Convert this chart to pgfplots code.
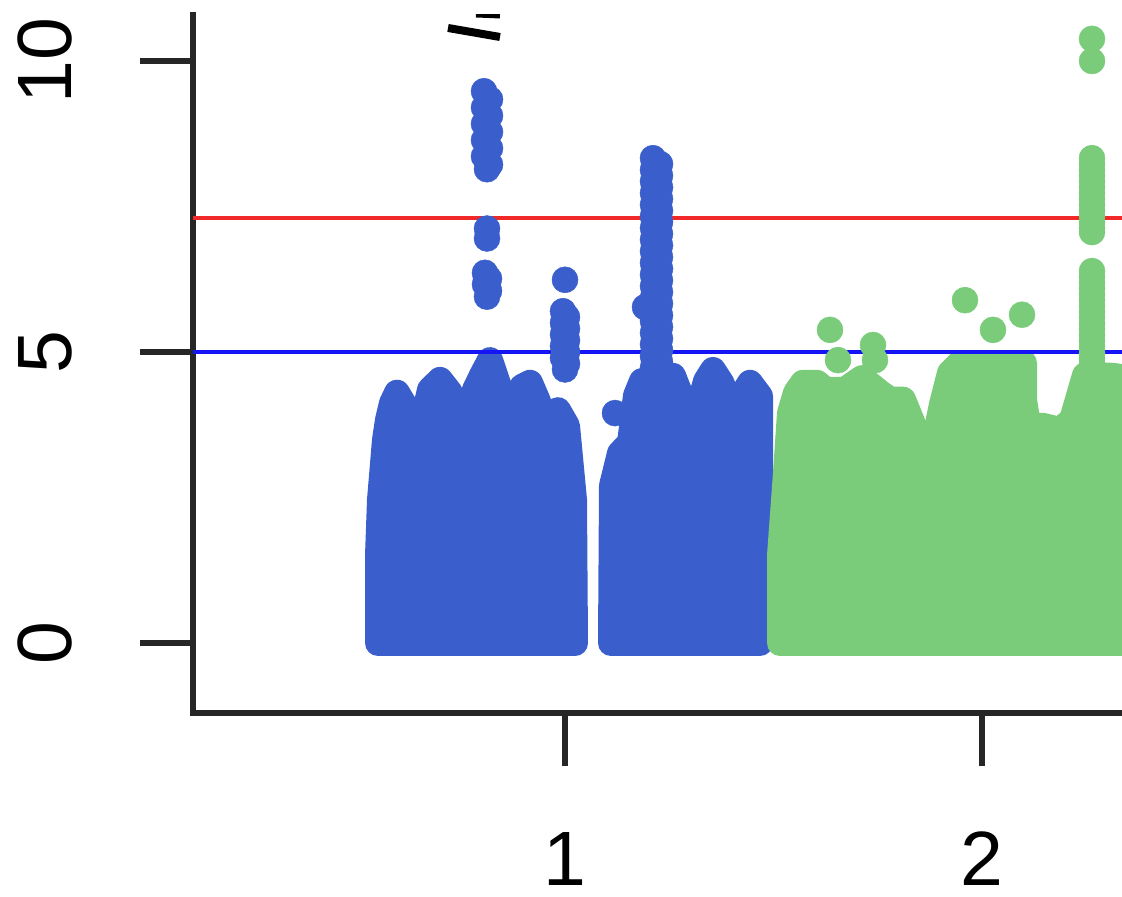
\documentclass[border=0pt]{standalone}
\usepackage{fontspec}
\setmainfont{Liberation Sans}
\usepackage{pgfplots}
\pgfplotsset{compat=1.18}
\definecolor{chrA}{RGB}{58,95,205}
\definecolor{chrB}{RGB}{122,203,122}
\definecolor{gwline}{RGB}{240,40,40}
\definecolor{sugline}{RGB}{20,20,245}
\begin{document}
\begin{tikzpicture}
\path[use as bounding box] (0pt,0pt) rectangle (1122pt,897pt);
\begin{axis}[
  at={(193pt,184pt)}, anchor=south west,
  scale only axis, width=929pt, height=698pt,
  xmin=193, xmax=1122, ymin=-1.2027, ymax=10.790,
  axis x line=bottom, axis y line=left,
  axis line style={line width=6pt, black!85, -, line cap=rect},
  xtick={565,982}, xticklabels={1,2},
  ytick={0,5,10},
  tick align=outside,
  major tick length=53pt,
  tick style={line width=6pt, black!85},
  tick label style={font=\fontsize{77}{92}\selectfont, inner sep=0pt},
  xticklabel style={anchor=north},
  yticklabel style={rotate=90, anchor=south},
  xticklabel shift=66pt, yticklabel shift=68pt,
  /pgf/number format/assume math mode=true,
]
% chromosome 1 bulk, p side
\addplot[fill=chrA, draw=chrA, line width=26pt, line join=round, line cap=round] coordinates {
(378,0) (378,1.5) (380,2.46) (385,3.49) (388,3.83) (392,4.12) (397,4.30) (404,4.10) (411,3.70)
(418,3.15) (424,3.90) (430,4.35) (440,4.52) (450,4.30) (457,3.90) (462,3.35) (468,3.90) (475,4.35)
(482,4.60) (490,4.86) (498,4.45) (504,4.00) (509,3.55) (515,4.10) (522,4.40) (530,4.47) (538,4.15)
(545,3.55) (552,3.95) (558,4.00) (567,3.73)
(574,2.46) (575,0) (378,0)};
% chromosome 1 bulk, q side
\addplot[fill=chrA, draw=chrA, line width=26pt, line join=round, line cap=round] coordinates {
(611,0) (612,2.7) (620,3.26) (630,3.44) (636,4.25) (642,4.5) (673,4.59) (682,4.20)
(690,3.40) (698,4.00) (706,4.50) (713,4.69) (722,4.45) (728,4.00) (733,3.55) (740,4.20)
(750,4.47) (760,4.24) (760,0) (611,0)};
% chromosome 1 strong signals
\addplot[only marks, chrA, mark=*, mark size=13pt, mark options={line width=0.5pt}] coordinates {
(484,9.48) (490,9.34) (484,9.20) (490,9.06) (484,8.92) (490,8.78) (484,8.64) (490,8.50)
(484,8.36) (490,8.22) (487,8.14)
(487,7.12) (487,6.95)
(485,6.36) (489,6.26) (485,6.16) (489,6.05) (487,5.95)
(565,6.24) (563,5.70) (567,5.60) (563,5.50) (567,5.40) (563,5.30) (567,5.20) (563,5.10)
(567,5.00) (563,4.90) (567,4.80) (565,4.70)
(615,3.95) (645,5.77)
(645,10.86) (658,10.86)
(653,8.33) (660,8.23) (653,8.13) (660,8.03) (653,7.93) (660,7.83) (653,7.73) (660,7.63)
(653,7.53) (660,7.43) (653,7.33) (660,7.23) (653,7.13) (660,7.03) (653,6.93) (660,6.83)
(653,6.73) (660,6.63) (653,6.53) (660,6.43) (653,6.33) (660,6.23) (653,6.13) (660,6.03)
(653,5.93) (660,5.83) (653,5.73) (660,5.63) (653,5.53) (660,5.43) (653,5.33) (660,5.23)
(653,5.13) (660,5.03) (653,4.93) (660,4.83) (653,4.73) (660,4.60)
};
% chromosome 2 bulk
\addplot[fill=chrB, draw=chrB, line width=26pt, line join=round, line cap=round] coordinates {
(780,0) (780,1.5) (786,2.92) (790,3.95) (796,4.30) (803,4.47) (817,4.47) (825,4.35)
(845,4.35) (862,4.55) (880,4.30) (890,4.18) (903,4.18) (912,3.80) (920,3.40) (927,3.10)
(931,2.85) (936,3.60) (942,4.10) (950,4.64) (960,4.81) (1000,4.81) (1024,4.81) (1024,4.18)
(1028,3.73) (1043,3.73) (1060,3.66) (1072,3.83) (1085,4.6) (1100,4.6) (1113,4.59) (1140,4.52)
(1140,0) (780,0)};
% chromosome 2 strong signals
\addplot[only marks, chrB, mark=*, mark size=13pt, mark options={line width=0.5pt}] coordinates {
(830,5.38) (838,4.86) (873,5.12) (875,4.86) (965,5.89) (993,5.38) (1022,5.64)
(1092,10.38) (1092,10.00)
(1092,8.33) (1092,8.23) (1092,8.13) (1092,8.03) (1092,7.93) (1092,7.83) (1092,7.73)
(1092,7.63) (1092,7.53) (1092,7.43) (1092,7.33) (1092,7.23) (1092,7.13) (1092,7.06)
(1092,6.39) (1092,6.29) (1092,6.19) (1092,6.09) (1092,5.99) (1092,5.89) (1092,5.79)
(1092,5.69) (1092,5.59) (1092,5.49) (1092,5.39) (1092,5.29) (1092,5.19) (1092,5.09)
(1092,4.99) (1092,4.89) (1092,4.79) (1092,4.70)
};
% thresholds
\addplot[gwline, line width=4.5pt] coordinates {(193,7.3) (1122,7.3)};
\addplot[sugline, line width=4.5pt] coordinates {(193,5) (1122,5)};
% clipped annotation fragment
\addplot[black, line width=8pt] coordinates {(448,10.567) (500,10.412)};
\addplot[black, line width=8pt] coordinates {(476,10.816) (500,10.799)};
\end{axis}
\end{tikzpicture}
\end{document}
